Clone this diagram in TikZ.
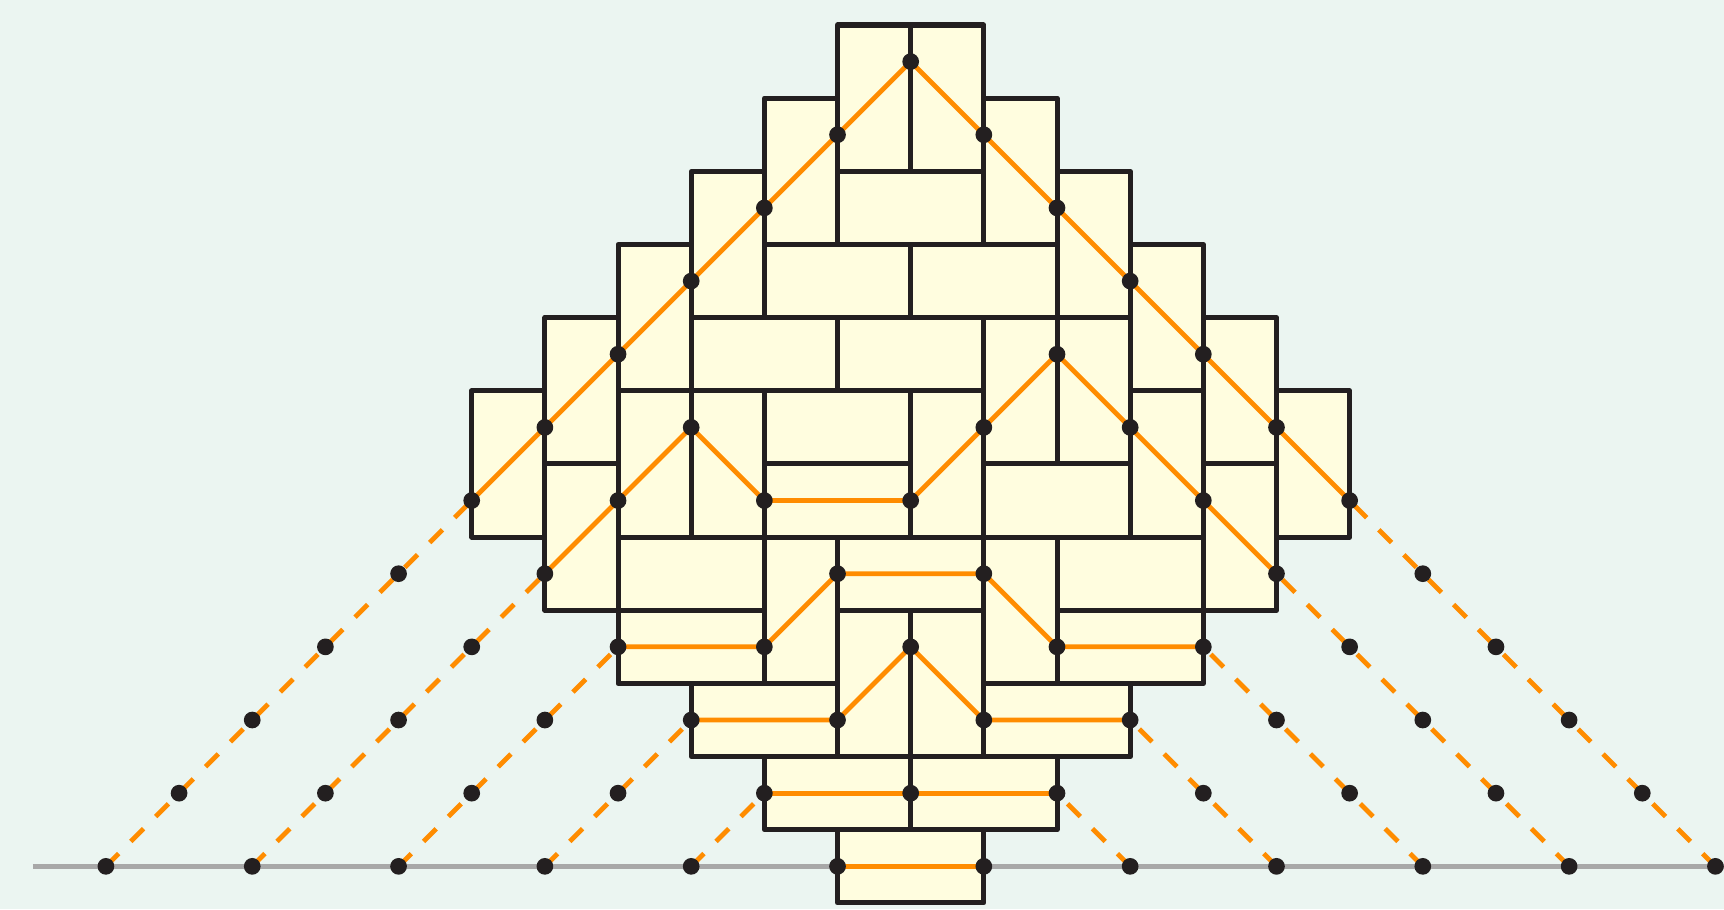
\documentclass[tikz,border=0pt]{standalone}
\definecolor{bg}{HTML}{EBF5F1}
\definecolor{ink}{HTML}{231F20}
\definecolor{tile}{HTML}{FFFDDF}
\definecolor{pathc}{HTML}{FF8C00}
\definecolor{axisc}{HTML}{A8A8A8}
\begin{document}
\begin{tikzpicture}[x=1cm,y=1cm,
  domino/.style={draw=ink, fill=tile, line width=1.95pt, line join=round},
  lp/.style={draw=pathc, line width=1.85pt, line join=round},
  lpdash/.style={lp, dash pattern=on 7pt off 6.7pt},
  dotnode/.style={circle, fill=ink, inner sep=0pt, minimum size=6.5pt},
  axisline/.style={draw=axisc, line width=2.2pt}]
\fill[bg] (-12.448,-0.584) rectangle (11.117,11.842);
\useasboundingbox (-12.448,-0.584) rectangle (11.117,11.842);
% lattice points
\foreach \x in {-12,...,12}{
  \foreach \y in {0,...,11}{
    \coordinate (p\x y\y) at (\x,\y);
  }
}
% axis
\coordinate (axL) at (-12,0);
\coordinate (axR) at (11.2,0);
\draw[axisline] (axL) -- (axR);
% dominoes
\foreach \a/\b/\c/\d in {
  -1/9.5/0/11.5, 0/9.5/1/11.5, -2/8.5/-1/10.5, 1/8.5/2/10.5, -1/8.5/1/9.5,
  -3/7.5/-2/9.5, 2/7.5/3/9.5, -4/6.5/-3/8.5, -2/7.5/0/8.5, 0/7.5/2/8.5,
  3/6.5/4/8.5, -5/5.5/-4/7.5, -3/6.5/-1/7.5, -1/6.5/1/7.5, 1/5.5/2/7.5,
  2/5.5/3/7.5, 4/5.5/5/7.5, -6/4.5/-5/6.5, -4/4.5/-3/6.5, -3/4.5/-2/6.5,
  -2/5.5/0/6.5, 0/4.5/1/6.5, 3/4.5/4/6.5, 5/4.5/6/6.5, -5/3.5/-4/5.5,
  -2/4.5/0/5.5, 1/4.5/3/5.5, 4/3.5/5/5.5, -4/3.5/-2/4.5, -2/2.5/-1/4.5,
  -1/3.5/1/4.5, 1/2.5/2/4.5, 2/3.5/4/4.5, -4/2.5/-2/3.5, -1/1.5/0/3.5,
  0/1.5/1/3.5, 2/2.5/4/3.5, -3/1.5/-1/2.5, 1/1.5/3/2.5, -2/0.5/0/1.5,
  0/0.5/2/1.5, -1/-0.5/1/0.5}
  \draw[domino] (\a,\b) rectangle (\c,\d);
% path A
\draw[lpdash] (p-11y0) -- (p-6y5);
\draw[lp] (p-6y5) -- (p0y11) -- (p6y5);
\draw[lpdash] (p11y0) -- (p6y5);
% path B
\draw[lpdash] (p-9y0) -- (p-5y4);
\draw[lp] (p-5y4) -- (p-3y6) -- (p-2y5) -- (p0y5) -- (p2y7) -- (p5y4);
\draw[lpdash] (p9y0) -- (p5y4);
% path C
\draw[lpdash] (p-7y0) -- (p-4y3);
\draw[lp] (p-4y3) -- (p-2y3) -- (p-1y4) -- (p1y4) -- (p2y3) -- (p4y3);
\draw[lpdash] (p7y0) -- (p4y3);
% path D
\draw[lpdash] (p-5y0) -- (p-3y2);
\draw[lp] (p-3y2) -- (p-1y2) -- (p0y3) -- (p1y2) -- (p3y2);
\draw[lpdash] (p5y0) -- (p3y2);
% path E
\draw[lpdash] (p-3y0) -- (p-2y1);
\draw[lp] (p-2y1) -- (p0y1) -- (p2y1);
\draw[lpdash] (p3y0) -- (p2y1);
% path F
\draw[lp] (p-1y0) -- (p1y0);
% dots
\foreach \x/\y in {
  -11/0,-10/1,-9/2,-8/3,-7/4,-6/5,-5/6,-4/7,-3/8,-2/9,-1/10,0/11,
  1/10,2/9,3/8,4/7,5/6,6/5,7/4,8/3,9/2,10/1,11/0,
  -9/0,-8/1,-7/2,-6/3,-5/4,-4/5,-3/6,-2/5,0/5,1/6,2/7,3/6,4/5,5/4,6/3,7/2,8/1,9/0,
  -7/0,-6/1,-5/2,-4/3,-2/3,-1/4,1/4,2/3,4/3,5/2,6/1,7/0,
  -5/0,-4/1,-3/2,-1/2,0/3,1/2,3/2,4/1,5/0,
  -3/0,-2/1,0/1,2/1,3/0,
  -1/0,1/0}
  \node[dotnode] (d\x y\y) at (p\x y\y) {};
\end{tikzpicture}
\end{document}
